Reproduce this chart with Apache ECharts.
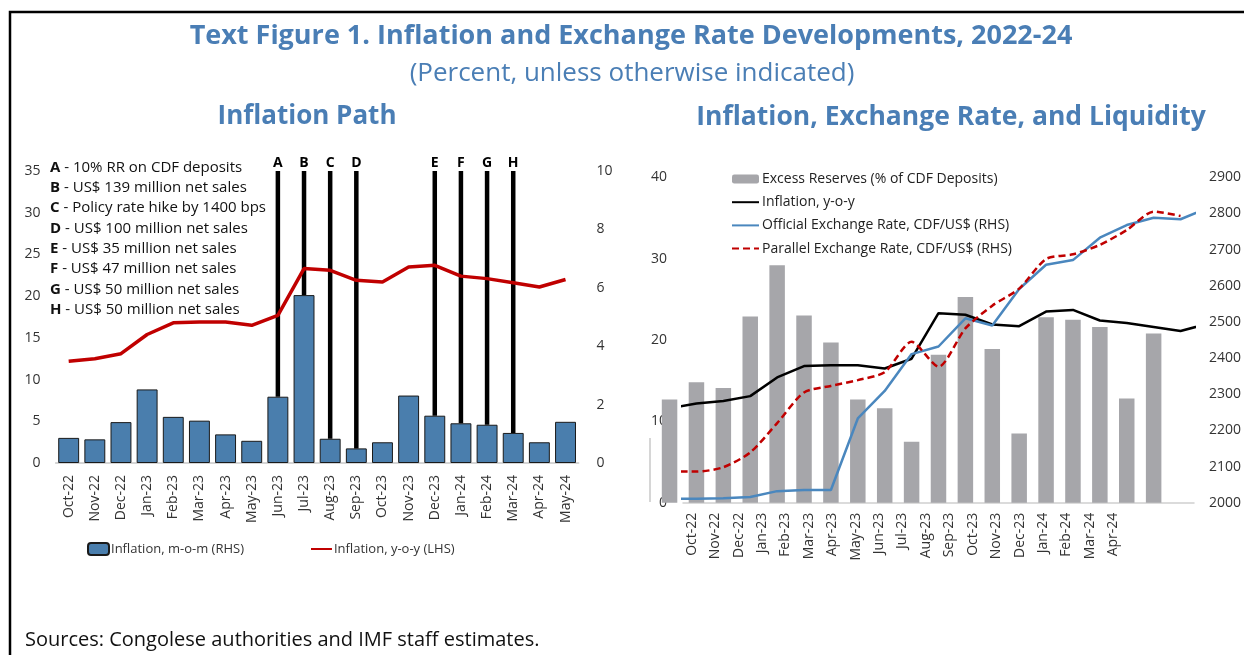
<!DOCTYPE html>
<html>
<head>
<meta charset="utf-8">
<title>Inflation and Exchange Rate Developments, 2022-24</title>
<script src="https://cdn.jsdelivr.net/npm/echarts@6/dist/echarts.min.js"></script>
<style>
html, body { margin: 0; padding: 0; background: #fff; }
#chart { width: 1244px; height: 655px; }
</style>
</head>
<body>
<div id="chart"></div>
<script>
// ---- left panel: Inflation Path (Oct-22 .. May-24)
var pathMonths = ['Oct-22', 'Nov-22', 'Dec-22', 'Jan-23', 'Feb-23', 'Mar-23', 'Apr-23', 'May-23', 'Jun-23', 'Jul-23',
    'Aug-23', 'Sep-23', 'Oct-23', 'Nov-23', 'Dec-23', 'Jan-24', 'Feb-24', 'Mar-24', 'Apr-24', 'May-24'];
var momInflation = [0.86, 0.81, 1.40, 2.52, 1.58, 1.45, 0.98, 0.76, 2.27, 5.75,
    0.83, 0.50, 0.71, 2.31, 1.62, 1.36, 1.31, 1.03, 0.71, 1.41];
var eventMonths = ['Jun-23', 'Jul-23', 'Aug-23', 'Sep-23', 'Dec-23', 'Jan-24', 'Feb-24', 'Mar-24'];
var eventLetters = ['A', 'B', 'C', 'D', 'E', 'F', 'G', 'H'];
var eventNotes = ['10% RR on CDF deposits', 'US$ 139 million net sales', 'Policy rate hike by 1400 bps',
    'US$ 100 million net sales', 'US$ 35 million net sales', 'US$ 47 million net sales',
    'US$ 50 million net sales', 'US$ 50 million net sales'];

// ---- right panel: Inflation, Exchange Rate, and Liquidity (Sep-22 .. May-24)
var liqMonths = ['Sep-22', 'Oct-22', 'Nov-22', 'Dec-22', 'Jan-23', 'Feb-23', 'Mar-23', 'Apr-23', 'May-23', 'Jun-23',
    'Jul-23', 'Aug-23', 'Sep-23', 'Oct-23', 'Nov-23', 'Dec-23', 'Jan-24', 'Feb-24', 'Mar-24', 'Apr-24', 'May-24'];
// y-o-y inflation, shared by both panels
var yoyInflation = [11.6, 12.2, 12.5, 13.1, 15.4, 16.8, 16.9, 16.9, 16.5, 17.7, 23.3,
    23.1, 21.9, 21.7, 23.5, 23.7, 22.4, 22.1, 21.6, 21.1, 22.0];
var excessReserves = [12.7, 14.8, 14.1, 22.9, 29.2, 23.0, 19.7, 12.7, 11.6, 7.5,
    18.2, 25.3, 18.9, 8.5, 22.8, 22.5, 21.6, 12.8, 20.8];
var officialRate = [2011, 2011, 2012, 2016, 2032, 2035, 2035, 2233, 2309, 2411,
    2432, 2510, 2490, 2591, 2658, 2671, 2733, 2768, 2788, 2784, 2815];
var parallelRate = [2086, 2086, 2098, 2139, 2220, 2305, 2323, 2339, 2361, 2445,
    2376, 2482, 2545, 2592, 2674, 2687, 2713, 2754, 2805, 2793];
// category labels printed under the right panel
var liqAxisLabels = ['Oct-22', 'Nov-22', 'Dec-22', 'Jan-23', 'Feb-23', 'Mar-23', 'Apr-23', 'May-23', 'Jun-23', 'Jul-23',
    'Aug-23', 'Sep-23', 'Oct-23', 'Nov-23', 'Dec-23', 'Jan-24', 'Feb-24', 'Mar-24', 'Apr-24'];

var FONT = '"Open Sans", "Noto Sans", sans-serif';
var BLUE_TITLE = '#4A7EB5';
var LABEL = '#333333';

var chart = echarts.init(document.getElementById('chart'));

function indexed(arr) {
    return arr.map(function (v, i) { return [i, v]; });
}

var eventData = eventMonths.map(function (m) {
    var i = pathMonths.indexOf(m);
    return [i, momInflation[i]];
});

var noteTexts = eventLetters.map(function (l, i) {
    return {
        type: 'text',
        left: 50,
        top: 160 + i * 20.3,
        style: {
            text: '{b|' + l + '} - ' + eventNotes[i],
            font: '15px ' + FONT,
            fill: '#111',
            rich: { b: { fontWeight: 'bold', fontSize: 15, fontFamily: FONT, fill: '#111' } }
        }
    };
});

var axisLabelStyle = { color: LABEL, fontSize: 14, fontFamily: FONT };
var noSymbol = { opacity: 0 };

var option = {
    animation: false,
    textStyle: { fontFamily: FONT },
    grid: [
        { left: 55.6, right: 665.4, top: 171, bottom: 192 },     // inflation path
        { left: 683, right: 49, top: 177.3, bottom: 152.3 },       // liquidity panel (data)
        { left: 680, right: 119, top: 177.3, bottom: 152.3 }       // liquidity panel (labels)
    ],
    xAxis: [
        {
            type: 'category', gridIndex: 0, data: pathMonths,
            axisLine: { lineStyle: { color: '#C8C8C8', width: 1.5 } },
            axisTick: { show: false },
            axisLabel: Object.assign({ rotate: 90, interval: 0, margin: 12 }, axisLabelStyle)
        },
        {
            type: 'value', gridIndex: 1, min: 0.5, max: 19.5,
            axisLine: { show: true, onZero: false, lineStyle: { color: '#D0D0D0', width: 1.5 } },
            axisTick: { show: false },
            axisLabel: { show: false },
            splitLine: { show: false }
        },
        {
            type: 'category', gridIndex: 2, data: liqAxisLabels,
            axisLine: { show: false },
            axisTick: { show: false },
            axisLabel: Object.assign({ rotate: 90, interval: 0, margin: 10 }, axisLabelStyle)
        }
    ],
    yAxis: [
        {
            type: 'value', gridIndex: 0, min: 0, max: 35, interval: 5,
            axisLine: { show: false }, axisTick: { show: false }, splitLine: { show: false },
            axisLabel: Object.assign({ margin: 15 }, axisLabelStyle)
        },
        {
            type: 'value', gridIndex: 0, position: 'right', min: 0, max: 10, interval: 2,
            axisLine: { show: false }, axisTick: { show: false }, splitLine: { show: false },
            axisLabel: Object.assign({ margin: 18 }, axisLabelStyle)
        },
        {
            type: 'value', gridIndex: 1, min: 0, max: 40, interval: 10,
            axisLine: { show: false }, axisTick: { show: false }, splitLine: { show: false },
            axisLabel: Object.assign({ margin: 16 }, axisLabelStyle)
        },
        {
            type: 'value', gridIndex: 1, position: 'right', min: 2000, max: 2900, interval: 100,
            axisLine: { show: false }, axisTick: { show: false }, splitLine: { show: false },
            axisLabel: Object.assign({ margin: 15, formatter: function (v) { return String(v); } }, axisLabelStyle)
        },
        { type: 'value', gridIndex: 2, show: false }
    ],
    legend: [
        {
            data: [
                { name: 'Inflation, m-o-m (RHS)' },
                { name: 'Inflation, y-o-y (LHS)', itemStyle: noSymbol }
            ],
            left: 87, top: 542, padding: 0,
            itemWidth: 21, itemHeight: 12, itemGap: 66,
            textStyle: { color: LABEL, fontSize: 13, fontFamily: FONT, padding: [0, 0, 0, -3] }
        },
        {
            data: [
                { name: 'Excess Reserves (% of CDF Deposits)' },
                { name: 'Inflation, y-o-y', itemStyle: noSymbol },
                { name: 'Official Exchange Rate, CDF/US$ (RHS)', itemStyle: noSymbol },
                { name: 'Parallel Exchange Rate, CDF/US$ (RHS)', itemStyle: noSymbol }
            ],
            orient: 'vertical',
            left: 731, top: 171, padding: 0,
            itemWidth: 27, itemHeight: 9, itemGap: 7.2,
            textStyle: { color: '#222', fontSize: 14, fontFamily: FONT, lineHeight: 16, padding: [0, 0, 0, -2] }
        }
    ],
    series: [
        {
            name: 'Inflation, m-o-m (RHS)', type: 'bar', xAxisIndex: 0, yAxisIndex: 1,
            data: momInflation, barCategoryGap: '20%',
            itemStyle: { color: '#4A7EAD', borderColor: '#1a1a1a', borderWidth: 1 }
        },
        {
            name: 'events', type: 'custom', xAxisIndex: 0, yAxisIndex: 1,
            data: eventData, z: 3,
            renderItem: function (params, api) {
                var p = api.coord([api.value(0), api.value(1)]);
                var top = params.coordSys.y;
                return {
                    type: 'group',
                    children: [
                        { type: 'line', shape: { x1: p[0], y1: p[1], x2: p[0], y2: top },
                          style: { stroke: '#000', lineWidth: 4.5 } },
                        { type: 'text', x: p[0], y: top - 1,
                          style: { text: eventLetters[params.dataIndex], font: 'bold 14px ' + FONT,
                                   fill: '#000', align: 'center', verticalAlign: 'bottom' } }
                    ]
                };
            }
        },
        {
            name: 'Inflation, y-o-y (LHS)', type: 'line', xAxisIndex: 0, yAxisIndex: 0,
            data: yoyInflation.slice(1), symbol: 'none', z: 5,
            lineStyle: { color: '#C00000', width: 3.5 }, itemStyle: { color: '#C00000' }
        },
        {
            name: 'Excess Reserves (% of CDF Deposits)', type: 'bar', xAxisIndex: 1, yAxisIndex: 2,
            data: indexed(excessReserves), barWidth: 15.5, clip: false,
            itemStyle: { color: '#A6A6AA' }
        },
        {
            name: 'Inflation, y-o-y', type: 'line', xAxisIndex: 1, yAxisIndex: 2,
            data: indexed(yoyInflation), symbol: 'none',
            lineStyle: { color: '#000', width: 2.5 }, itemStyle: { color: '#000' }
        },
        {
            name: 'Official Exchange Rate, CDF/US$ (RHS)', type: 'line', xAxisIndex: 1, yAxisIndex: 3,
            data: indexed(officialRate), symbol: 'none',
            lineStyle: { color: '#4A87BE', width: 2.5 }, itemStyle: { color: '#4A87BE' }
        },
        {
            name: 'Parallel Exchange Rate, CDF/US$ (RHS)', type: 'line', xAxisIndex: 1, yAxisIndex: 3,
            data: indexed(parallelRate), symbol: 'none', smooth: 0.25,
            lineStyle: { color: '#C00000', width: 2.5, type: [7, 4] }, itemStyle: { color: '#C00000' }
        }
    ],
    graphic: [
        { type: 'polyline', shape: { points: [[10, 655], [10, 12], [1244, 12]] },
          style: { stroke: '#000', lineWidth: 2.5, fill: null } },
        { type: 'line', shape: { x1: 650, y1: 438, x2: 650, y2: 502 },
          style: { stroke: '#C8C8C8', lineWidth: 1.5 } },
        { type: 'text', x: 631, y: 36,
          style: { text: 'Text Figure 1. Inflation and Exchange Rate Developments, 2022-24',
                   font: 'bold 27px ' + FONT, fill: BLUE_TITLE, align: 'center', verticalAlign: 'middle' } },
        { type: 'text', x: 632, y: 74,
          style: { text: '(Percent, unless otherwise indicated)',
                   font: '26px ' + FONT, fill: BLUE_TITLE, align: 'center', verticalAlign: 'middle' } },
        { type: 'text', x: 307, y: 117,
          style: { text: 'Inflation Path', font: 'bold 26px ' + FONT, fill: BLUE_TITLE,
                   align: 'center', verticalAlign: 'middle' } },
        { type: 'text', x: 951, y: 117,
          style: { text: 'Inflation, Exchange Rate, and Liquidity', font: 'bold 26.5px ' + FONT, fill: BLUE_TITLE,
                   align: 'center', verticalAlign: 'middle' } },
        { type: 'text', x: 25, y: 640,
          style: { text: 'Sources: Congolese authorities and IMF staff estimates.',
                   font: '20px ' + FONT, fill: '#111', align: 'left', verticalAlign: 'middle' } }
    ].concat(noteTexts)
};

chart.setOption(option);
</script>
</body>
</html>
